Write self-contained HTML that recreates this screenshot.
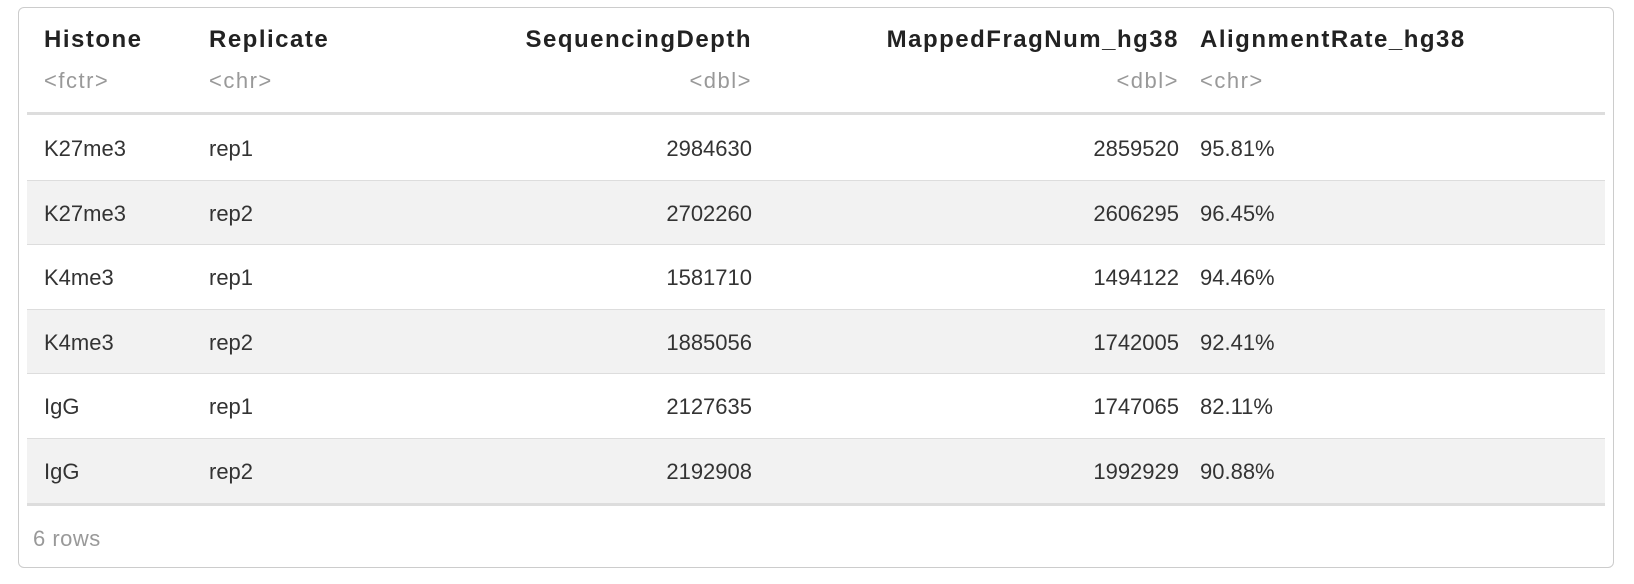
<!DOCTYPE html>
<html><head><meta charset="utf-8"><style>
body{margin:0;width:1634px;height:584px;background:#fff;font-family:"Liberation Sans",sans-serif;color:#333;position:relative;overflow:hidden}
.box{position:absolute;left:18px;top:7px;width:1596px;height:561px;border:1.5px solid #ccc;border-radius:6px;box-sizing:border-box}
.t{position:absolute;font-size:22px;line-height:24px;white-space:nowrap}
.h{font-weight:bold;color:#222;font-size:24px;letter-spacing:1.5px}
.ty{color:#999;letter-spacing:1.5px}
.stripe{position:absolute;left:27px;width:1578px;background:#f2f2f2}
.line{position:absolute;left:27px;width:1578px;background:#ddd}
</style></head><body>
<div class="box"></div>
<div id="tbl"></div>
<div class="t ty" style="left:33px;top:527px;color:#999;letter-spacing:0.5px">6 rows</div>
<script>
const histone=["K27me3","K27me3","K4me3","K4me3","IgG","IgG"];
const replicate=["rep1","rep2","rep1","rep2","rep1","rep2"];
const depth=[2984630,2702260,1581710,1885056,2127635,2192908];
const mapped=[2859520,2606295,1494122,1742005,1747065,1992929];
const rate=["95.81%","96.45%","94.46%","92.41%","82.11%","90.88%"];
const cols=[
 {name:"Histone",type:"<fctr>",x:44,align:"l",vals:histone},
 {name:"Replicate",type:"<chr>",x:209,align:"l",vals:replicate},
 {name:"SequencingDepth",type:"<dbl>",x:752,align:"r",vals:depth},
 {name:"MappedFragNum_hg38",type:"<dbl>",x:1179,align:"r",vals:mapped},
 {name:"AlignmentRate_hg38",type:"<chr>",x:1200,align:"l",vals:rate}];
const tbl=document.getElementById('tbl');
function add(cls,txt,x,y,align,name){
 const d=document.createElement('div');
 d.className='t '+cls;
 d.textContent=txt;
 d.style.top=(y-12)+'px';
 if(align==='r'){d.style.right=(1634-x)+'px';}else{d.style.left=x+'px';}
 
 
 tbl.appendChild(d);
}
const rowH=64.6, row0=149;
for(let i=0;i<6;i++){
 const top=116+i*rowH;
 if(i%2===1){const s=document.createElement('div');s.className='stripe';s.style.top=top+'px';s.style.height=rowH+'px';
 
 
 tbl.appendChild(s);}
 if(i<5){const l=document.createElement('div');l.className='line';l.style.top=(top+rowH-1)+'px';l.style.height='1px';
 
 
 tbl.appendChild(l);}
}
[[112,3],[503,3]].forEach(([y,h])=>{const l=document.createElement('div');l.className='line';l.style.top=y+'px';l.style.height=h+'px';
 
 
 tbl.appendChild(l);});
cols.forEach(c=>{
 add('h',c.name,c.x,40,c.align,'column-header');
 add('ty',c.type,c.x,81,c.align,'column-type');
 c.vals.forEach((v,i)=>add('',String(v),c.x,row0+i*rowH,c.align,'table-cell'));
});
</script>
</body></html>
